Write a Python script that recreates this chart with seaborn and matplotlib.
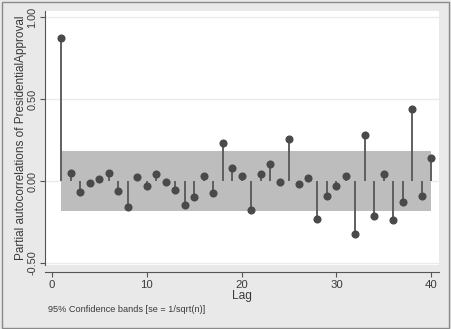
import numpy as np
import pandas as pd
import matplotlib
matplotlib.use("Agg")
import matplotlib.pyplot as plt
import seaborn as sns
from matplotlib.patches import Rectangle

lags = list(range(1, 41))
pacf = [0.87, 0.05, -0.065, -0.01, 0.01, 0.05, -0.06, -0.16, 0.025, -0.03,
        0.04, -0.005, -0.055, -0.145, -0.095, 0.03, -0.075, 0.235, 0.08, 0.03,
        -0.175, 0.04, 0.105, -0.005, 0.255, -0.02, 0.02, -0.23, -0.09, -0.03,
        0.03, -0.32, 0.28, -0.215, 0.045, -0.24, -0.125, 0.44, -0.09, 0.14]
band_limit = 0.185
y_ticks = [-0.5, 0.0, 0.5, 1.0]
y_tick_labels = ["-0.50", "0.00", "0.50", "1.00"]
x_ticks = [0, 10, 20, 30, 40]
ylabel = "Partial autocorrelations of PresidentialApproval"
xlabel = "Lag"
note = "95% Confidence bands [se = 1/sqrt(n)]"

df = pd.DataFrame({"lag": lags, "pacf": pacf})

sns.set_theme(style="white")
plt.rcParams["font.family"] = ["Liberation Sans", "DejaVu Sans"]

W, H = 452, 329
bg = "#e9e9e9"
fig = plt.figure(figsize=(W / 100, H / 100), dpi=100, facecolor=bg)
ax = fig.add_axes([45 / W, 1 - 265 / H, (439 - 45) / W, (265 - 11) / H])
ax.set_facecolor("white")

ax.set_xlim(-0.74, 40.82)
ax.set_ylim(-0.512, 1.037)

for yv in y_ticks:
    ax.axhline(yv, color="#ebebeb", lw=1.0, zorder=0)

ax.fill_between(df["lag"], -band_limit, band_limit, color="#bdbdbd", lw=0, zorder=1)
ax.vlines(df["lag"], 0, df["pacf"], color="#5f5f5f", lw=1.4, zorder=2)
sns.scatterplot(data=df, x="lag", y="pacf", ax=ax, color="#4a4a4a", s=34,
                edgecolor="#4a4a4a", linewidth=0, zorder=3, legend=False)

ax.set_yticks(y_ticks)
ax.set_yticklabels(y_tick_labels, rotation=90, va="center")
ax.set_xticks(x_ticks)
txtc = "#3a3a3a"
ax.tick_params(axis="both", which="both", length=3.5, width=0.8, color="#555555",
               labelcolor=txtc, pad=2, left=True, bottom=True)
ax.tick_params(axis="x", labelsize=8.2)
ax.tick_params(axis="y", labelsize=7.8)
for s in ["top", "right"]:
    ax.spines[s].set_visible(False)
for s in ["left", "bottom"]:
    ax.spines[s].set_color("#555555")
    ax.spines[s].set_linewidth(0.8)
ax.spines["bottom"].set_position(("outward", 5))

ax.set_xlabel(xlabel, fontsize=8.6, color=txtc, labelpad=0.5)
ax.set_ylabel(ylabel, fontsize=8.5, color=txtc, labelpad=0)

fig.text(48 / W, 1 - 309 / H, note, fontsize=6.6, color=txtc, va="center", ha="left")

fig.patches.append(Rectangle((2 / W, 1.5 / H), (449 - 2) / W, (327 - 1.5) / H,
                             transform=fig.transFigure, fill=False,
                             edgecolor="#8a8a8a", lw=1.0))

fig.savefig("out.png", dpi=100, facecolor=bg)
